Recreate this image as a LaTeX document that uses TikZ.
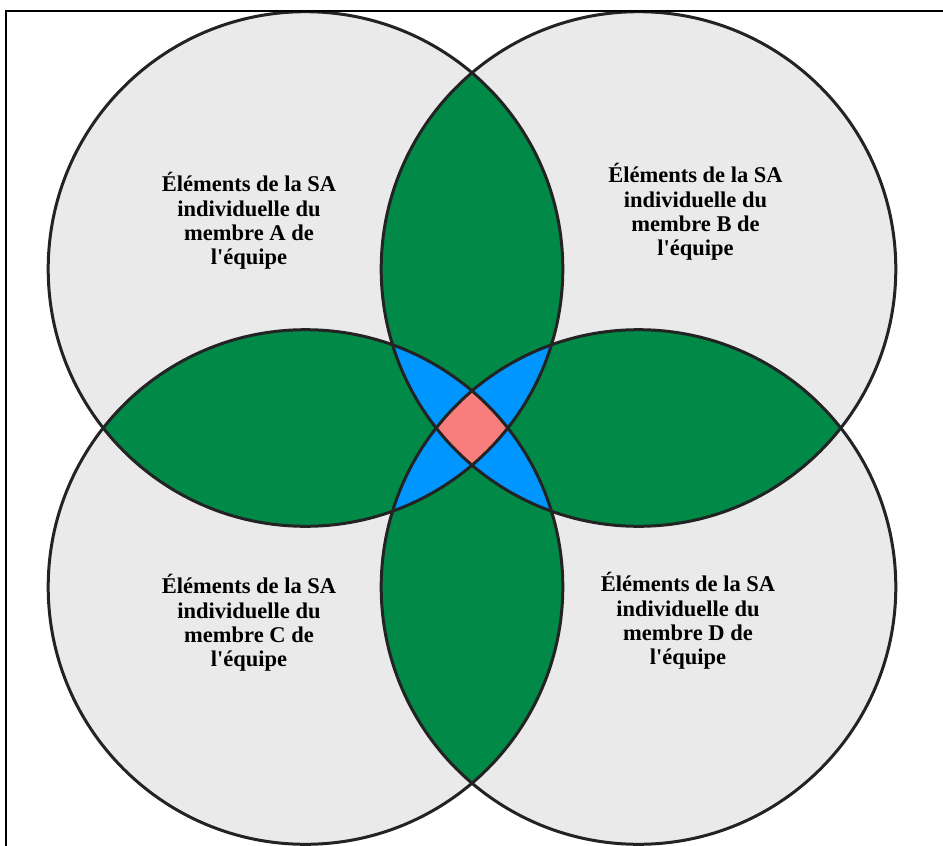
\documentclass[tikz,border=0pt]{standalone}
\usepackage{fontspec}
\setmainfont{Liberation Serif}
\definecolor{cgray}{RGB}{234,234,234}
\definecolor{cgreen}{RGB}{0,137,71}
\definecolor{cblue}{RGB}{0,150,255}
\definecolor{cpink}{RGB}{250,125,125}
\definecolor{cline}{RGB}{35,35,35}
\begin{document}
\begin{tikzpicture}[x=1pt,y=-1pt,
  outline/.style={draw=cline,line width=3pt},
  label/.style={align=center,font=\bfseries\fontsize{22.5}{24.3}\selectfont,inner sep=0pt},
  frameline/.style={draw=black,line width=2.5pt}]
\useasboundingbox (0,0) rectangle (943,846);
\def\R{257.3}
\coordinate (A) at (305.5,269);
\coordinate (B) at (638.5,269);
\coordinate (C) at (305.5,587);
\coordinate (D) at (638.5,587);
% gray discs
\foreach \c in {A,B,C,D} \fill[cgray] (\c) circle (\R);
% green: adjacent pairs
\begin{scope}\clip (A) circle (\R); \fill[cgreen] (B) circle (\R); \fill[cgreen] (C) circle (\R);\end{scope}
\begin{scope}\clip (D) circle (\R); \fill[cgreen] (B) circle (\R); \fill[cgreen] (C) circle (\R);\end{scope}
% blue: triples
\begin{scope}\clip (A) circle (\R); \clip (B) circle (\R); \fill[cblue] (C) circle (\R); \fill[cblue] (D) circle (\R);\end{scope}
\begin{scope}\clip (C) circle (\R); \clip (D) circle (\R); \fill[cblue] (A) circle (\R); \fill[cblue] (B) circle (\R);\end{scope}
% pink: all four
\begin{scope}\clip (A) circle (\R); \clip (B) circle (\R); \clip (C) circle (\R); \fill[cpink] (D) circle (\R);\end{scope}
% outlines
\foreach \c in {A,B,C,D} \draw[outline] (\c) circle (\R);
% frame
\coordinate (f1) at (6,846);
\coordinate (f2) at (6,11);
\coordinate (f3) at (943,11);
\draw[frameline] (f1) -- (f2) -- (f3);
% labels
\node[label] (tA) at (249,221) {Éléments de la SA\\individuelle du\\membre A de\\l\textquotesingle équipe};
\node[label] (tB) at (695.5,212) {Éléments de la SA\\individuelle du\\membre B de\\l\textquotesingle équipe};
\node[label] (tC) at (249,623) {Éléments de la SA\\individuelle du\\membre C de\\l\textquotesingle équipe};
\node[label] (tD) at (688,621) {Éléments de la SA\\individuelle du\\membre D de\\l\textquotesingle équipe};
\end{tikzpicture}
\end{document}
